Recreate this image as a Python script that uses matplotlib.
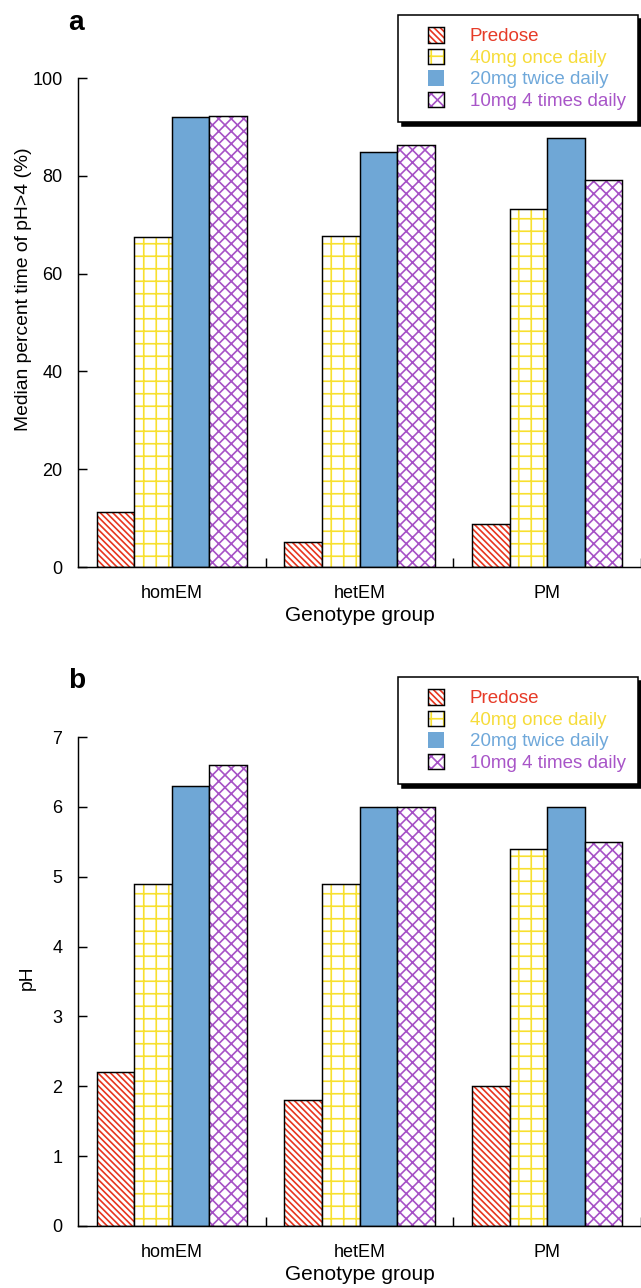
import numpy as np
import matplotlib
matplotlib.use("Agg")
import matplotlib.pyplot as plt
import matplotlib.patches as mpatches
from matplotlib.legend_handler import HandlerPatch

# dpi 75 so that the hatch tile (1 inch) gives the spacing of the original
DPI = 75
plt.rcParams['font.family'] = ['Liberation Sans', 'DejaVu Sans']
plt.rcParams['hatch.linewidth'] = 1.6

groups = ["homEM", "hetEM", "PM"]
regimens = ["Predose", "40mg once daily", "20mg twice daily", "10mg 4 times daily"]

# panel a: median percent time of pH>4
pct_time = {
    "Predose": [11.3, 5.2, 8.8],
    "40mg once daily": [67.5, 67.7, 73.2],
    "20mg twice daily": [92.0, 84.9, 87.7],
    "10mg 4 times daily": [92.3, 86.2, 79.2],
}
# panel b: median pH
median_ph = {
    "Predose": [2.2, 1.8, 2.0],
    "40mg once daily": [4.9, 4.9, 5.4],
    "20mg twice daily": [6.3, 6.0, 6.0],
    "10mg 4 times daily": [6.6, 6.0, 5.5],
}

colors = ["#e8351e", "#f8e02e", "#6fa7d6", "#a652c6"]
text_colors = ["#e63b28", "#f6dc3a", "#6fa8da", "#a855c8"]
hatches = ["\\\\\\\\", "+", "", "xx"]

W, H = 641, 1288
fig = plt.figure(figsize=(W / DPI, H / DPI), dpi=DPI)
ax_a = fig.add_axes([78 / W, 1 - 567 / H, 1 - 78 / W, (567 - 78) / H])
ax_b = fig.add_axes([78 / W, 1 - 1226 / H, 1 - 78 / W, (1226 - 737) / H])


def right_square(legend, orig_handle, xdescent, ydescent, width, height, fontsize):
    side = height
    return mpatches.Rectangle((-xdescent + width - side, -ydescent), side, height)


def draw_panel(ax, data, ymax, yticks, ylabel, label_xy, legend_top):
    ax.patch.set_visible(False)
    x = np.arange(len(groups))
    w = 0.2
    handles = []
    for i, reg in enumerate(regimens):
        pos = x - 0.3 + i * w
        if hatches[i]:
            ax.bar(pos, data[reg], w, color="white", edgecolor=colors[i],
                   hatch=hatches[i], linewidth=0)
            h = mpatches.Rectangle((0, 0), 1, 1, facecolor="white", edgecolor=colors[i],
                                   hatch=hatches[i], linewidth=0)
            o = mpatches.Rectangle((0, 0), 1, 1, fill=False, edgecolor="black", linewidth=1.4)
            handles.append((h, o))
        else:
            ax.bar(pos, data[reg], w, color=colors[i], linewidth=0)
            handles.append(mpatches.Rectangle((0, 0), 1, 1, facecolor=colors[i], linewidth=0))
        ax.bar(pos, data[reg], w, fill=False, edgecolor="black", linewidth=1.4)

    ax.set_xlim(-0.5, 2.5)
    ax.set_ylim(0, ymax)
    ax.set_yticks(yticks)
    ax.set_xticks([0.5, 1.5, 2.5])
    ax.set_xticklabels([])
    ax.set_xticks(x, minor=True)
    ax.set_xticklabels(groups, minor=True, fontsize=17.3)
    ax.tick_params(axis="x", which="minor", length=0, pad=17)
    ax.tick_params(axis="x", which="major", direction="in", length=8.5, width=1.4)
    ax.tick_params(axis="y", direction="in", length=8.5, width=1.4, labelsize=17.3, pad=15)
    for s in ["top", "right"]:
        ax.spines[s].set_visible(False)
    for s in ["left", "bottom"]:
        ax.spines[s].set_linewidth(1.4)
    ax.set_xlabel("Genotype group", fontsize=20, labelpad=4)
    ax.set_ylabel(ylabel, fontsize=18.5)
    ax.yaxis.set_label_coords(*label_xy)

    leg = ax.legend(handles, regimens, loc="upper right",
                    bbox_to_anchor=(638 / W, legend_top), bbox_transform=fig.transFigure,
                    borderaxespad=0, fontsize=18, handlelength=1.8, handleheight=0.9,
                    handletextpad=1.4, labelspacing=0.17, borderpad=0.65,
                    fancybox=False, framealpha=1, edgecolor="black",
                    handler_map={mpatches.Rectangle: HandlerPatch(patch_func=right_square)})
    leg.get_frame().set_linewidth(1.5)
    for txt, c in zip(leg.get_texts(), text_colors):
        txt.set_color(c)
    return leg


leg_a = draw_panel(ax_a, pct_time, 100, [0, 20, 40, 60, 80, 100],
                   "Median percent time of pH>4 (%)", (-0.082, 0.568), 1 - 15 / H)
leg_b = draw_panel(ax_b, median_ph, 7, [0, 1, 2, 3, 4, 5, 6, 7],
                   "pH", (-0.075, 0.507), 1 - 677 / H)

fig.text(68 / W, 1 - 30 / H, "a", fontsize=27, fontweight="bold", va="baseline")
fig.text(68 / W, 1 - 688 / H, "b", fontsize=27, fontweight="bold", va="baseline")

# solid black drop shadow behind each legend box
fig.canvas.draw()
for leg in (leg_a, leg_b):
    sh = mpatches.Shadow(leg.legendPatch, 4, -4)
    sh.set_facecolor("black")
    sh.set_edgecolor("black")
    sh.set_alpha(1)
    sh.set_zorder(-1)
    fig.add_artist(sh)

fig.savefig("out.png", dpi=DPI)
